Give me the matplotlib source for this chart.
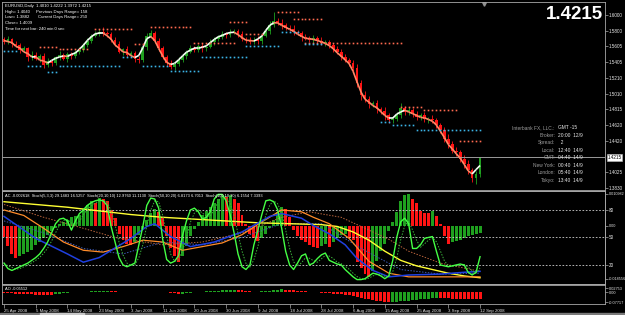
import numpy as np
import pandas as pd
import matplotlib
matplotlib.use('Agg')
import matplotlib.pyplot as plt
from matplotlib.collections import LineCollection
from matplotlib.patches import Rectangle

# EURUSD daily, 25 Apr 2008 .. 12 Sep 2008 (one bar per trading day incl. Sundays)
first_open = 1.5700
close = [1.5660, 1.5700, 1.5640, 1.5620, 1.5560, 1.5580, 1.5470, 1.5500, 1.5450, 1.5480, 1.5370, 1.5420,
         1.5400, 1.5470, 1.5500, 1.5450, 1.5510, 1.5480, 1.5530, 1.5560, 1.5620, 1.5680, 1.5740, 1.5760, 1.5790,
         1.5770, 1.5760, 1.5690, 1.5640, 1.5540, 1.5570, 1.5500, 1.5520, 1.5450, 1.5430,
         1.5600, 1.5740, 1.5770, 1.5680, 1.5590, 1.5470, 1.5400, 1.5350, 1.5390,
         1.5440, 1.5480, 1.5540, 1.5580, 1.5560, 1.5610, 1.5580, 1.5600, 1.5660, 1.5700,
         1.5720, 1.5760, 1.5750, 1.5790, 1.5800, 1.5760, 1.5700, 1.5690, 1.5660,
         1.5690, 1.5670, 1.5740, 1.5800, 1.5880, 1.5930, 1.5900, 1.5870, 1.5840,
         1.5830, 1.5790, 1.5770, 1.5720, 1.5710, 1.5690, 1.5710, 1.5680, 1.5650,
         1.5660, 1.5620, 1.5570, 1.5540, 1.5470, 1.5440, 1.5400, 1.5330,
         1.5150, 1.5000, 1.4950, 1.4880, 1.4890, 1.4820, 1.4800, 1.4740, 1.4680, 1.4700, 1.4740,
         1.4830, 1.4780, 1.4810, 1.4760, 1.4720, 1.4740, 1.4690, 1.4700, 1.4680, 1.4620,
         1.4560, 1.4450, 1.4380, 1.4300, 1.4280, 1.4200, 1.4130, 1.4050, 1.3960, 1.4009, 1.4215]
# wick lengths in pips
upper_wick = [20, 35, 15, 40, 25, 30, 20, 45, 30, 25, 40, 35,
              30, 20, 45, 25, 30, 20, 35, 40, 25, 30, 20, 45, 30,
              55, 25, 30, 40, 35, 20, 45, 30, 25, 35,
              40, 30, 45, 25, 35, 20, 30, 40, 25,
              35, 30, 20, 40, 25, 30, 35, 20, 45, 30,
              25, 40, 30, 35, 20, 30, 45, 25, 40,
              30, 50, 25, 35, 40, 108, 30, 45, 25,
              35, 40, 20, 30, 45, 25, 35, 30, 40,
              30, 25, 35, 40, 30, 45, 25, 35,
              60, 40, 50, 35, 30, 45, 25, 40, 30, 35, 45,
              60, 30, 40, 25, 35, 30, 40, 25, 45, 30,
              30, 40, 55, 35, 45, 30, 40, 50, 35, 31, 7]
lower_wick = [25, 30, 40, 20, 35, 25, 45, 30, 20, 35, 30, 25,
              40, 25, 30, 20, 35, 30, 25, 20, 30, 25, 35, 20, 25,
              30, 40, 25, 35, 20, 45, 30, 25, 40, 30,
              25, 35, 20, 30, 40, 25, 45, 30, 35,
              25, 30, 35, 20, 30, 25, 40, 30, 20, 35,
              30, 25, 35, 20, 30, 40, 25, 35, 30,
              25, 30, 40, 20, 35, 25, 30, 45, 25,
              30, 35, 25, 40, 20, 30, 35, 25, 30,
              35, 30, 40, 25, 35, 30, 40, 45,
              50, 60, 40, 45, 35, 50, 40, 55, 35, 40, 30,
              35, 40, 30, 45, 35, 40, 30, 45, 35, 40,
              45, 40, 50, 35, 45, 40, 55, 45, 60, 78, 38]

# fractal levels: (first bar, last bar, price)
res_start = [9, 14, 23, 33, 37, 48, 57, 61, 69, 73, 76, 100, 106, 115]
res_end = [13, 21, 32, 35, 47, 58, 61, 65, 74, 80, 100, 105, 114, 120]
res_price = [1.5599, 1.5574, 1.5824, 1.5636, 1.5850, 1.5649, 1.5912, 1.5762, 1.6038, 1.5950,
             1.5649, 1.4846, 1.4809, 1.4420]
sup_start = [0, 6, 11, 14, 30, 35, 42, 50, 61, 70, 76, 95, 98, 104]
sup_end = [3, 9, 13, 29, 32, 41, 49, 61, 69, 74, 80, 97, 103, 120]
sup_price = [1.5549, 1.5361, 1.5285, 1.5361, 1.5473, 1.5361, 1.5298, 1.5473, 1.5611, 1.5787,
             1.5636, 1.4658, 1.4620, 1.4558]

price_ticks = [1.6000, 1.5800, 1.5605, 1.5405, 1.5210, 1.5010, 1.4815, 1.4620, 1.4420, 1.4025, 1.3830]
last_price = 1.4215

# Accelerator oscillator, in thousandths
ac_milli = [-3.9, -7.0, -9.8, -11.2, -10.5, -9.8, -9.1, -8.4, -6.7, -5.6, -4.2, -3.2,
            -1.8, -0.7, 0.7, 1.4, 2.1, 2.8, 3.2, 3.5,
            5.6, 7.0, 8.4, 7.7, 9.5, 9.1, 8.4, 5.3, 2.5,
            -2.8, -4.9, -6.3, -6.7, -5.6, -3.2, -1.1,
            2.1, 4.2, 5.6, 4.6, 2.8,
            -3.5, -7.7, -10.5, -12.6, -10.5, -7.0,
            -3.5, -1.1, 1.4,
            3.5, 4.9, 6.3, 7.7, 9.1, 10.2, 9.8, 10.5, 9.1, 7.7,
            3.5, 0.7, -2.8, -4.2, -5.3, -4.2, -2.8,
            -0.7, 2.1, 4.6, 6.3, 5.6, 2.8,
            -1.4, -3.5, -4.9, -5.6, -6.7, -7.4, -7.7, -7.0,
            -6.3, -7.4, -5.6, -4.2, -3.2, -2.8, -4.2, -4.9,
            -12.6, -14.7, -16.8, -17.9, -15.8, -12.3, -8.8, -6.3,
            -1.8, 1.4, 4.6, 8.4, 10.5,
            10.9, 9.1, 7.7, 4.9, 4.2, 4.2, 4.9, 3.2, 0.4,
            -3.5, -6.3, -5.6,
            -5.3, -4.9, -4.2, -3.5, -3.2, -2.8, -2.5]

# Awesome oscillator, in thousandths
ao_milli = [-7.5, -7.5, -11.2, -15.0, -15.0, -15.0, -18.7, -18.7, -22.4, -22.4, -22.4, -22.4, -22.4, -18.7, -15.0,
            -11.2, -7.5, -3.7, -2.2, 0.0, 2.2, 3.7, 6.0, 7.5, 9.0, 9.7,
            11.2, 9.7, 7.5, 3.7, 0.0,
            -2.2, -3.7, -3.7, -2.2, 0.0, 2.2, 3.7, 3.7, 2.2, 0.0,
            -3.7, -7.5, -11.2, -13.5, -12.0, -9.0, -6.0, -3.0,
            0.0, 2.2, 4.5, 6.7, 9.0, 10.5, 12.0, 13.5, 15.0, 16.5,
            15.0, 12.0, 9.0, 6.0, 3.7, 3.7, 5.2, 7.5,
            11.2, 15.0, 18.0, 19.4, 18.7, 16.5, 13.5, 10.5, 7.5,
            4.5, 1.5, -1.5, -3.7, -6.0, -7.5, -9.7, -12.0,
            -15.0, -18.7, -22.4, -26.2, -29.9, -37.4, -44.9, -50.9, -56.1, -62.1, -67.3, -71.1,
            -74.8, -77.0, -76.3, -73.3,
            -71.8, -68.8, -65.8, -62.8, -59.8, -56.8, -53.9, -50.9, -47.9, -45.6,
            -46.4, -47.9, -49.4, -50.9, -51.6, -52.4, -53.1, -53.9, -54.6, -55.0, -55.1]

# Stoch(5,3,3) main line
stoch5 = [22, 16, 14, 16, 18, 20, 22, 25, 28, 32, 38, 45, 55, 65, 70, 71, 68,
          58, 68, 76, 80, 85, 88, 90, 91, 90, 85,
          62, 45, 28, 20, 18, 20, 22,
          42, 62, 85, 93, 92, 82, 48, 26, 22, 24, 30,
          52, 68, 80, 82, 78, 70, 72, 78, 92, 97, 97, 90,
          75, 55, 32, 18, 15, 20, 42, 58, 75, 90, 91, 89,
          80, 60, 35, 20, 15, 22, 30, 32, 20, 22, 27, 31,
          33, 25, 23, 21, 20, 15, 11, 7, 4, 4, 5, 8, 11, 10, 8, 5, 8,
          25, 50, 67, 71, 65, 38, 38, 42, 49, 50, 51,
          35, 20, 19, 18, 19, 20, 21, 20, 12, 9, 12, 29]
# slower stochastics, read at sparse bars
stoch20_x = [0, 8, 16, 20, 24, 32, 36, 38, 42, 47, 53, 60, 67, 70, 75, 78, 82, 86, 89, 93, 97, 102, 110, 116, 120]
stoch20 = [73, 49, 32, 23, 28, 49, 62, 65, 51, 40, 45, 56, 73, 76, 71, 63, 54, 42, 27, 14, 7, 9, 10, 12, 13]
stoch20_sig_x = [0, 10, 20, 30, 40, 50, 60, 70, 80, 90, 100, 110, 120]
stoch20_sig = [68, 55, 38, 32, 45, 42, 50, 65, 65, 38, 15, 10, 11]
stoch50_x = [0, 5, 10, 15, 20, 25, 30, 35, 40, 45, 50, 55, 60, 65, 70, 75, 78, 82, 87, 92, 97, 102, 110, 120]
stoch50 = [80, 74, 60, 45, 36, 34, 40, 47, 45, 36, 40, 44, 53, 67, 80, 78, 72, 65, 49, 24, 11, 7, 7, 7]
stoch100_x = [0, 8, 16, 24, 32, 40, 48, 56, 64, 72, 80, 84, 88, 92, 96, 100, 104, 108, 112, 116, 120]
stoch100 = [89, 86, 83, 79, 75, 72, 70, 68, 66, 65, 64, 62, 56, 47, 35, 25, 19, 15, 11, 8, 6]
stoch100_sig_x = [0, 10, 20, 28, 40, 50, 60, 70, 77, 85, 90, 97, 102, 110, 120]
stoch100_sig = [86, 72, 60, 50, 42, 45, 55, 72, 78, 72, 62, 48, 35, 22, 13]

date_idx = list(range(0, 121, 8))
date_lbl = ['25 Apr 2008', '5 May 2008', '14 May 2008', '23 May 2008', '3 Jun 2008', '11 Jun 2008',
            '20 Jun 2008', '30 Jun 2008', '9 Jul 2008', '18 Jul 2008', '28 Jul 2008', '6 Aug 2008',
            '15 Aug 2008', '25 Aug 2008', '3 Sep 2008', '12 Sep 2008']

info_lbl = ['Interbank FX, LLC.:', 'Broker:', 'Spread:', 'Local:', 'GMT:', 'New York:', 'London:', 'Tokyo:']
info_val = ['GMT -15', '20:00  12/9', '  2', '12:40  14/9', '04:40  14/9', '00:40  14/9', '05:40  14/9', '13:40  14/9']

GREEN = '#1fa01f'
RED = '#ff1414'
GRID = '#a8a8a8'

plt.rcParams['font.family'] = ['Liberation Sans', 'DejaVu Sans']

W, H = 625, 315
fig = plt.figure(figsize=(W / 100, H / 100), dpi=100, facecolor='black')


def frame(x0, y0, x1, y1):
    return [x0 / W, 1 - y1 / H, (x1 - x0) / W, (y1 - y0) / H]


def ptext(x, y, s, **kw):
    fig.text(x / W, 1 - y / H, s, va='center', **kw)


ax = fig.add_axes(frame(2, 2, 605, 190))
ax_ind = fig.add_axes(frame(2, 191, 605, 284))
ax_ao = fig.add_axes(frame(2, 285, 605, 304))
ax_st = ax_ind.twinx()

for a in (ax, ax_ind, ax_ao, ax_st):
    a.set_facecolor('black' if a is not ax_st else 'none')
    a.set_xlim(-0.5, 151.5)
    for s in a.spines.values():
        s.set_color(GRID)
        s.set_linewidth(0.6)
    a.tick_params(colors=GRID, labelcolor='#e6e6e6', labelsize=3.3, length=2, width=0.5, pad=1)
    a.yaxis.tick_right()
    a.set_xticks([])

# ---- price panel
x = np.arange(len(close))
c = np.array(close)
o = np.array([first_open] + close[:-1])
hi = np.maximum(o, c) + np.array(upper_wick) / 10000
lo = np.minimum(o, c) - np.array(lower_wick) / 10000
cols = np.where(c >= o, GREEN, RED)
ax.vlines(x, lo, hi, colors=cols, lw=0.6)
ax.bar(x, np.maximum(np.abs(c - o), 0.0004), bottom=np.minimum(o, c), width=0.7, color=cols, lw=0)

smooth = pd.Series(c).rolling(3, center=True, min_periods=1).mean().values
segs = [[(i, smooth[i]), (i + 1, smooth[i + 1])] for i in range(len(smooth) - 1)]
seg_cols = ['#f4fff4' if smooth[i + 1] >= smooth[i] else '#ff8866' for i in range(len(smooth) - 1)]
ax.add_collection(LineCollection(segs, colors=seg_cols, linewidths=1.2, zorder=4))

for s0, s1, p in zip(res_start, res_end, res_price):
    xs = np.arange(s0, s1 + 1)
    ax.plot(xs, [p] * len(xs), ls='none', marker='s', ms=1.2, mew=0, color='#ff6a50', zorder=5)
for s0, s1, p in zip(sup_start, sup_end, sup_price):
    xs = np.arange(s0, s1 + 1)
    ax.plot(xs, [p] * len(xs), ls='none', marker='s', ms=1.2, mew=0, color='#3cb4e6', zorder=5)

ax.axhline(last_price, color='#9a9a9a', lw=0.7, zorder=3)
ax.set_ylim(1.38049, 1.61631)
ax.set_yticks(price_ticks)
ax.set_yticklabels(['%.4f' % v for v in price_ticks])
ax.text(1.004, last_price, '%.4f' % last_price, transform=ax.get_yaxis_transform(), ha='left', va='center',
        fontsize=3.3, color='black', bbox=dict(facecolor='white', edgecolor='#c0c0c0', pad=0.6, lw=0.4),
        clip_on=False)
ax.plot([0.8], [0.99], transform=ax.transAxes, marker='v', ms=2.5, color='#909090', clip_on=False)

ptext(5, 6, 'EURUSD,Daily  1.4010 1.4222 1.3972 1.4215', color='white', fontsize=3.1)
ptext(5, 11.7, 'High= 1.4040', color='white', fontsize=3.1)
ptext(36, 11.7, 'Previous Days Range= 158', color='white', fontsize=3.1)
ptext(5, 17.3, 'Low= 1.3882', color='white', fontsize=3.1)
ptext(38, 17.3, 'Current Days Range= 250', color='white', fontsize=3.1)
ptext(5, 23, 'Close= 1.4009', color='white', fontsize=3.1)
ptext(5, 28.7, 'Time for next bar: 240 min 0 sec', color='white', fontsize=3.1)

ptext(603, 14.5, '%.4f' % last_price, ha='right', color='white', fontsize=13.5, fontweight='bold')

for i, (lb, vl) in enumerate(zip(info_lbl, info_val)):
    y = 127.7 + 7.5 * i
    ptext(555, y, lb, ha='right', color='#9c9c9c', fontsize=3.5)
    ptext(558, y, vl, ha='left', color='#e8e8e8', fontsize=3.5)

# ---- AC + stochastics panel
ac = np.array(ac_milli) / 1000
ac_cols = [RED] + [GREEN if ac[i] > ac[i - 1] else RED for i in range(1, len(ac))]
ax_ind.bar(x, ac, width=0.75, color=ac_cols, lw=0)
ax_ind.set_ylim(-0.0203, 0.0120)
ax_ind.set_yticks([0.010982, 0.0, -0.018556])
ax_ind.set_yticklabels(['0.010982', '0.00', '-0.018556'])
ax_ind.tick_params(axis='y', pad=0.6)
for lab in ax_ind.get_yticklabels():
    lab.set_fontsize(2.7)

ax_st.set_ylim(-0.8, 100.7)
ax_st.set_yticks([20, 50, 80])
ax_st.set_yticklabels(['20', '50', '80'])
for lvl in (20, 50, 80):
    ax_st.axhline(lvl, color='#d0d0d0', lw=0.6, ls=(0, (2, 2)))
sig5 = pd.Series(stoch5).rolling(3, min_periods=1).mean().values
ax_st.plot(stoch100_sig_x, stoch100_sig, color='#b8643c', lw=0.7, ls=(0, (1.5, 1.5)))
ax_st.plot(stoch20_sig_x, stoch20_sig, color='#3c5ab4', lw=0.7, ls=(0, (1.5, 1.5)))
ax_st.plot(stoch100_x, stoch100, color='#ffff33', lw=1.0)
ax_st.plot(stoch50_x, stoch50, color='#ff8c2a', lw=0.9)
ax_st.plot(stoch20_x, stoch20, color='#2040e0', lw=1.1)
ax_st.plot(x, sig5, color='#3cb43c', lw=0.7, ls=(0, (1.5, 1.5)))
ax_st.plot(x, stoch5, color='#44ff44', lw=1.0)

ptext(5, 196, 'AC -0.002618  Stoch(5,3,3) 29.1483 16.5257  Stoch(20,10,10) 12.9760 11.1130  '
      'Stoch(50,10,20) 6.8173 6.7013  Stoch(100,10,30) 6.1554 7.3393', color='white', fontsize=2.9)

# ---- AO panel
ao = np.array(ao_milli) / 1000
ao_cols = [RED] + [GREEN if ao[i] > ao[i - 1] else RED for i in range(1, len(ao))]
ax_ao.bar(x, ao, width=0.75, color=ao_cols, lw=0)
ax_ao.set_ylim(-0.092, 0.0537)
ax_ao.set_yticks([0.02753, 0.0, -0.07717])
ax_ao.set_yticklabels(['0.02753', '0.00', '-0.07717'])
ax_ao.tick_params(axis='y', pad=0.6)
for lab in ax_ao.get_yticklabels():
    lab.set_fontsize(2.8)
ptext(5, 289, 'AO -0.05512', color='white', fontsize=2.9)

ax_ao.set_xticks(date_idx)
ax_ao.set_xticklabels(date_lbl)
ax_ao.tick_params(axis='x', length=3, pad=0.5, labelsize=3.2)
for lab in ax_ao.get_xticklabels():
    lab.set_ha('left')

fig.patches.append(Rectangle((0, 0), 1, 2.5 / H, transform=fig.transFigure, color='#7a7a7a'))
fig.patches.append(Rectangle((40 / W, 0), 44 / W, 2.5 / H, transform=fig.transFigure, color='#c8c8c8'))

fig.savefig('out.png', dpi=100, facecolor='black')
